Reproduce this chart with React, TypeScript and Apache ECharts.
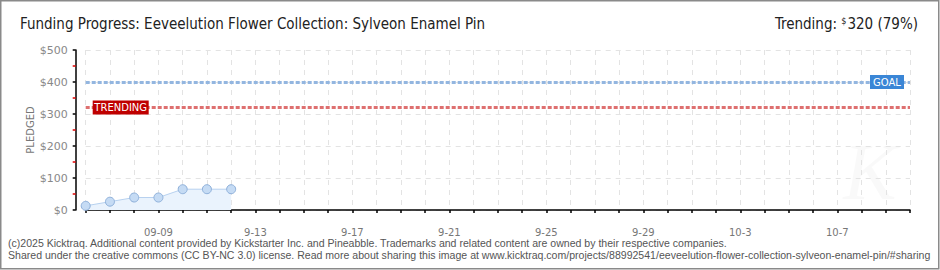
import React, { useEffect, useRef } from "react";
import * as echarts from "echarts";

const categories = [
  "9-6", "9-7", "9-8", "09-09", "9-10", "9-11", "9-12", "9-13", "9-14", "9-15",
  "9-16", "9-17", "9-18", "9-19", "9-20", "9-21", "9-22", "9-23", "9-24", "9-25",
  "9-26", "9-27", "9-28", "9-29", "9-30", "10-1", "10-2", "10-3", "10-4", "10-5",
  "10-6", "10-7", "10-8", "10-9", "10-10",
];
const pledged = [13, 26, 39, 39, 65, 65, 65];
const goalValue = 400;
const trendingValue = 320;
const yTicks = [0, 100, 200, 300, 400, 500];
const titleText = "Funding Progress: Eeveelution Flower Collection: Sylveon Enamel Pin";
const trendingText = { label: "Trending: ", amount: "320", pct: " (79%)" };
const footerLines = [
  "(c)2025 Kicktraq. Additional content provided by Kickstarter Inc. and Pineabble. Trademarks and related content are owned by their respective companies.",
  "Shared under the creative commons (CC BY-NC 3.0) license. Read more about sharing this image at www.kicktraq.com/projects/88992541/eeveelution-flower-collection-sylveon-enamel-pin/#sharing",
];

const FONT = "'DejaVu Sans Condensed', 'Liberation Sans Narrow', 'Roboto Condensed', 'Liberation Sans', sans-serif";

export default function App() {
  const ref = useRef<HTMLDivElement>(null);
  useEffect(() => {
    document.body.style.margin = "0";
    const chart = echarts.init(ref.current!, null, { renderer: "svg" });
    chart.setOption({
      animation: false,
      backgroundColor: "#fff",
      grid: { left: 85.7, right: 30, top: 50, bottom: 60, containLabel: false },
      xAxis: {
        type: "category",
        data: categories,
        boundaryGap: false,
        offset: 11,
        axisLine: { show: true, lineStyle: { color: "#000", width: 1.5 } },
        axisTick: { show: true, interval: 0, length: 3, lineStyle: { color: "#000", width: 1.5 } },
        axisLabel: {
          interval: (i: number) => i >= 3 && (i - 3) % 4 === 0,
          color: "#777",
          fontSize: 10,
          margin: 6,
          fontFamily: "'DejaVu Sans', sans-serif",
        },
        splitLine: { show: true, interval: 0, lineStyle: { color: "#e3e3e3", type: [5, 5], width: 1 } },
      },
      yAxis: {
        type: "value",
        min: yTicks[0],
        max: yTicks[yTicks.length - 1],
        interval: 100,
        offset: 10,
        name: "PLEDGED",
        nameLocation: "middle",
        nameGap: 40,
        nameMoveOverlap: false,
        nameTextStyle: { color: "#777", fontSize: 10, fontFamily: "'DejaVu Sans', sans-serif" },
        axisLine: { show: true, lineStyle: { color: "#000", width: 1.5 } },
        axisTick: { show: true, length: 3, lineStyle: { color: "#000", width: 1.5 } },
        minorTick: { show: true, splitNumber: 2, length: 3, lineStyle: { color: "#e00000", width: 1.5 } },
        axisLabel: {
          formatter: (v: number) => "$" + v,
          color: "#888",
          fontSize: 11,
          margin: 8,
          fontFamily: "'DejaVu Sans', sans-serif",
        },
        splitLine: { show: true, lineStyle: { color: "#e3e3e3", type: [5, 5], width: 1 } },
      },
      series: [
        {
          type: "line",
          data: pledged,
          symbol: "circle",
          symbolSize: 9,
          itemStyle: { color: "#c5dbf4", borderColor: "#8eb0da", borderWidth: 1 },
          lineStyle: { color: "#b7d1ef", width: 1 },
          areaStyle: { color: "#eaf3fd", opacity: 1 },
          z: 3,
          markLine: {
            silent: true,
            symbol: "none",
            label: { show: false },
            data: [
              { yAxis: goalValue, lineStyle: { color: "#93b6e0", width: 3, type: [4, 2] } },
              { yAxis: trendingValue, lineStyle: { color: "#de7070", width: 3, type: [4, 2] } },
            ],
          },
          markPoint: {
            silent: true,
            data: [
              {
                coord: [categories[categories.length - 1], goalValue],
                symbol: "rect",
                symbolSize: [34, 14],
                symbolOffset: [-23, 0],
                itemStyle: { color: "#3a86d6" },
                label: {
                  show: true,
                  position: "inside",
                  formatter: "GOAL",
                  color: "#fff",
                  fontSize: 10,
                  fontFamily: "'DejaVu Sans', sans-serif",
                },
              },
              {
                coord: [categories[0], trendingValue],
                symbol: "rect",
                symbolSize: [56, 14],
                symbolOffset: [35, 0],
                itemStyle: { color: "#bf0000" },
                label: {
                  show: true,
                  position: "inside",
                  formatter: "TRENDING",
                  color: "#fff",
                  fontSize: 10,
                  fontFamily: "'DejaVu Sans', sans-serif",
                },
              },
            ],
          },
        },
      ],
      graphic: [
        {
          type: "rect",
          shape: { x: 0.75, y: 0.75, width: 938, height: 268 },
          style: { fill: "none", stroke: "#8a8a8a", lineWidth: 1.5 },
          silent: true,
          z: 10,
        },
        {
          type: "text",
          x: 870,
          y: 172,
          style: {
            text: "K",
            font: "italic 80px serif",
            fill: "rgba(0,0,0,0.025)",
            align: "center",
            verticalAlign: "middle",
          },
          silent: true,
          z: -1,
        },
        {
          type: "text",
          x: 20,
          y: 24,
          style: {
            text: titleText,
            font: "15px " + FONT,
            fill: "#222",
            align: "left",
            verticalAlign: "middle",
          },
        },
        {
          type: "text",
          x: 918,
          y: 24,
          style: {
            text: "{a|" + trendingText.label + "}{s|$}{a|" + trendingText.amount + trendingText.pct + "}",
            align: "right",
            verticalAlign: "middle",
            rich: {
              a: { fontSize: 15, fontFamily: FONT, fill: "#222", color: "#222", verticalAlign: "bottom" },
              s: { fontSize: 9, fontFamily: FONT, fill: "#222", color: "#222", verticalAlign: "top", padding: [0, 1, 6, 0] },
            },
          },
        },
        {
          type: "text",
          x: 8,
          y: 243,
          style: {
            text: footerLines[0],
            font: "10.55px 'Liberation Sans', Arial, sans-serif",
            fill: "#555",
            verticalAlign: "middle",
          },
        },
        {
          type: "text",
          x: 8,
          y: 255,
          style: {
            text: footerLines[1],
            font: "10.55px 'Liberation Sans', Arial, sans-serif",
            fill: "#555",
            verticalAlign: "middle",
          },
        },
      ],
    });
    return () => chart.dispose();
  }, []);
  return <div ref={ref} style={{ width: 940, height: 270 }} />;
}
